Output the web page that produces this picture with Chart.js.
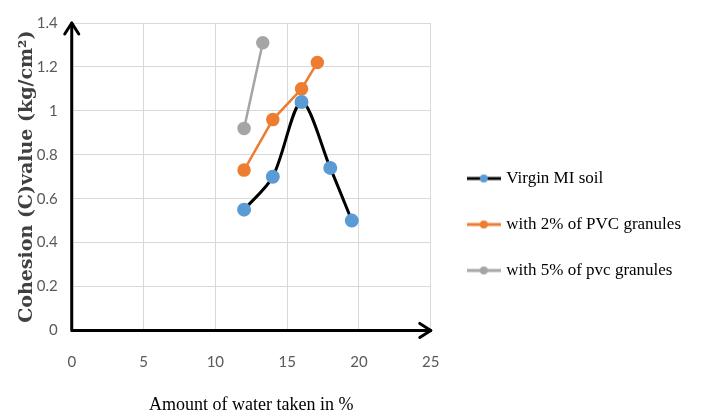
<!DOCTYPE html>
<html>
<head>
<meta charset="utf-8">
<script src="https://cdn.jsdelivr.net/npm/chart.js@4/dist/chart.umd.min.js"></script>
<style>
  html, body { margin: 0; padding: 0; background: #fff; }
  #wrap { width: 701px; height: 416px; }
</style>
</head>
<body>
<div id="wrap"><canvas id="chart"></canvas></div>
<script>
// values
let waterVirgin = [12, 14, 16, 18, 19.5];
let cohesionVirgin = [0.55, 0.7, 1.04, 0.74, 0.5];
let water2 = [12, 14, 16, 17.1];
let cohesion2 = [0.73, 0.96, 1.1, 1.22];
let water5 = [12, 13.3];
let cohesion5 = [0.92, 1.31];

let seriesNames = ["Virgin MI soil", "with 2% of PVC granules", "with 5% of pvc granules"];
let lineColors = ["#000000", "#ed7d31", "#a5a5a5"];
let dotColors = ["#5b9bd5", "#ed7d31", "#a5a5a5"];

function toPoints(xs, ys) {
  return xs.map((x, i) => ({ x: x, y: ys[i] }));
}

// little line-with-dot marker for the legend
function legendMarker(lineColor, dotColor) {
  let c = document.createElement("canvas");
  c.width = 34;
  c.height = 12;
  let ctx = c.getContext("2d");
  ctx.strokeStyle = lineColor;
  ctx.lineWidth = 3;
  ctx.beginPath();
  ctx.moveTo(0, 6);
  ctx.lineTo(34, 6);
  ctx.stroke();
  ctx.fillStyle = dotColor;
  ctx.beginPath();
  ctx.arc(17, 6, 4, 0, Math.PI * 2);
  ctx.fill();
  return c;
}

// thick black axes with arrow heads
const axisArrows = {
  id: "axisArrows",
  afterLayout(chart) {
    // move the legend a bit, like the original
    if (chart.legend) {
      chart.legend.top += 10;
      chart.legend.bottom += 10;
      chart.legend.left += 10;
      chart.legend.right += 10;
    }
  },
  afterDatasetsDraw(chart) {
    const ctx = chart.ctx;
    const a = chart.chartArea;
    ctx.save();
    ctx.strokeStyle = "#000";
    ctx.lineWidth = 3;
    ctx.lineCap = "round";
    ctx.lineJoin = "round";
    ctx.beginPath();
    ctx.moveTo(a.left, a.top);
    ctx.lineTo(a.left, a.bottom);
    ctx.lineTo(a.right, a.bottom);
    ctx.stroke();
    ctx.beginPath();
    ctx.moveTo(a.left - 7, a.top + 11);
    ctx.lineTo(a.left, a.top);
    ctx.lineTo(a.left + 7, a.top + 11);
    ctx.stroke();
    ctx.beginPath();
    ctx.moveTo(a.right - 11, a.bottom - 7);
    ctx.lineTo(a.right, a.bottom);
    ctx.lineTo(a.right - 11, a.bottom + 7);
    ctx.stroke();
    ctx.restore();
  },
};

const chart = new Chart(document.getElementById("chart"), {
  type: "line",
  data: {
    datasets: [
      {
        label: seriesNames[0],
        data: toPoints(waterVirgin, cohesionVirgin),
        borderColor: lineColors[0],
        borderWidth: 3,
        tension: 0.3,
        pointBackgroundColor: dotColors[0],
        pointBorderColor: dotColors[0],
        pointRadius: 5.5,
      },
      {
        label: seriesNames[1],
        data: toPoints(water2, cohesion2),
        borderColor: lineColors[1],
        borderWidth: 2.5,
        tension: 0,
        pointBackgroundColor: dotColors[1],
        pointBorderColor: dotColors[1],
        pointRadius: 5.5,
      },
      {
        label: seriesNames[2],
        data: toPoints(water5, cohesion5),
        borderColor: lineColors[2],
        borderWidth: 2.5,
        tension: 0,
        pointBackgroundColor: dotColors[2],
        pointBorderColor: dotColors[2],
        pointRadius: 5.5,
      },
    ],
  },
  options: {
    responsive: true,
    maintainAspectRatio: false,
    animation: false,
    layout: { padding: { top: 13, right: 20, left: 0, bottom: 0 } },
    scales: {
      x: {
        type: "linear",
        min: 0,
        max: 25,
        ticks: {
          stepSize: 5,
          color: "#595959",
          padding: 23,
          font: { family: "Lato", size: 15 },
        },
        grid: { color: "#d9d9d9", drawTicks: false },
        border: { display: false },
        title: {
          display: true,
          text: "Amount of water taken in %",
          color: "#000",
          padding: { top: 0, bottom: 0 },
          font: { family: "Liberation Serif", size: 18 },
        },
      },
      y: {
        min: 0,
        max: 1.4,
        ticks: {
          stepSize: 0.2,
          color: "#595959",
          padding: 14,
          font: { family: "Lato", size: 15 },
          callback: (v) => String(Number(v.toFixed(1))),
        },
        grid: { color: "#d9d9d9", drawTicks: false },
        border: { display: false },
        title: {
          display: true,
          text: "Cohesion (C)value (kg/cm\u00b2)",
          color: "#404040",
          padding: { top: 16, bottom: -16 },
          font: { family: "DejaVu Serif", size: 19, weight: "bold" },
        },
      },
    },
    plugins: {
      legend: {
        position: "right",
        align: "center",
        maxWidth: 300,
        labels: {
          usePointStyle: true,
          pointStyleWidth: 28,
          padding: 29,
          color: "#000",
          font: { family: "Liberation Serif", size: 17 },
          generateLabels(chart) {
            return chart.data.datasets.map((ds, i) => ({
              text: ds.label,
              pointStyle: legendMarker(lineColors[i], dotColors[i]),
              fillStyle: dotColors[i],
              strokeStyle: lineColors[i],
              lineWidth: 0,
              datasetIndex: i,
              fontColor: "#000",
            }));
          },
        },
      },
      tooltip: { enabled: false },
    },
  },
  plugins: [axisArrows],
});
</script>
</body>
</html>
